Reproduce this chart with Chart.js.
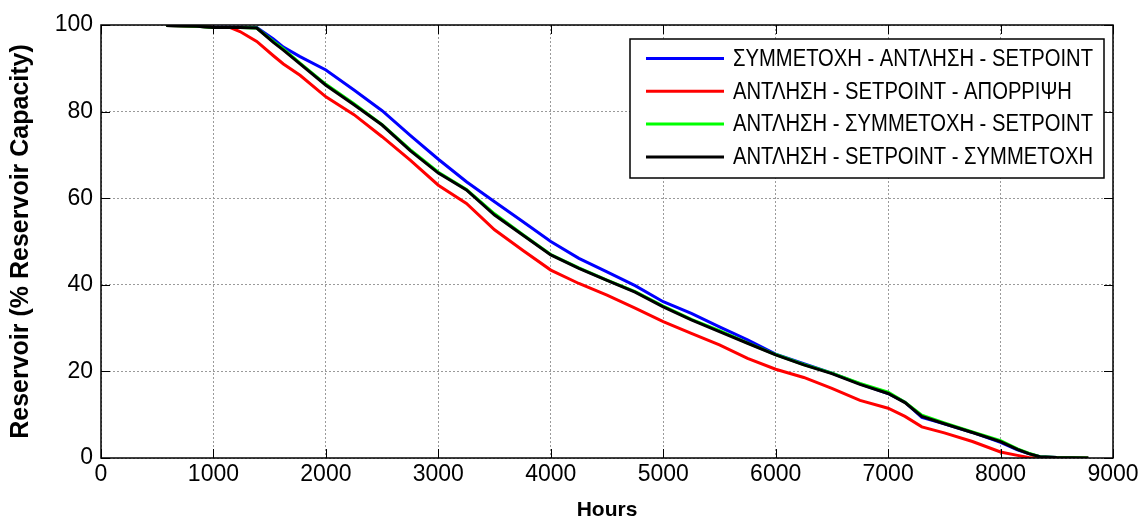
<!DOCTYPE html>
<html>
<head>
<meta charset="utf-8">
<script src="https://cdn.jsdelivr.net/npm/chart.js@4.4.1/dist/chart.umd.min.js"></script>
<style>
  body { margin: 0; background: #fff; }
</style>
</head>
<body>
<canvas id="chart" width="1145" height="523"></canvas>
<script>
// hours of the year (x) and reservoir level in % of capacity for each strategy
var hours = [580, 850, 1000, 1150, 1236, 1385, 1533, 1622, 1770, 2000, 2250, 2500, 2750, 3000, 3250, 3500, 3750, 4000, 4250, 4500,
             4750, 5000, 5250, 5500, 5750, 6000, 6250, 6500, 6750, 7000, 7150, 7300, 7500, 7750, 8000, 8150, 8250, 8350, 8500, 8780]

var blueVals  = [99.9, 99.7, 99.5, 99.5, 99.5, 99.4, 96.8, 94.9, 92.7, 89.6, 85.0, 80.2, 74.5, 69.0, 63.8, 59.2, 54.6, 50.0, 46.1, 43.0,
                 39.8, 36.1, 33.4, 30.3, 27.3, 24.0, 21.8, 19.6, 17.1, 14.9, 12.9, 9.4, 7.9, 5.9, 3.6, 1.9, 1.0, 0.3, 0.1, 0]
var redVals   = [99.9, 99.7, 99.5, 99.4, 98.5, 96.2, 92.9, 91.0, 88.4, 83.4, 79.3, 74.2, 68.8, 63.0, 58.8, 52.7, 48.0, 43.4, 40.3, 37.6,
                 34.6, 31.5, 28.8, 26.1, 23.0, 20.5, 18.6, 16.1, 13.3, 11.5, 9.6, 7.2, 5.8, 3.8, 1.4, 0.6, 0.1, 0, 0, 0]
var greenVals = [99.9, 99.7, 99.4, 99.4, 99.4, 99.3, 96.2, 94.5, 91.2, 86.3, 81.8, 77.0, 71.2, 66.0, 62.0, 56.4, 51.6, 47.0, 43.9, 41.1,
                 38.4, 35.1, 32.0, 29.4, 26.6, 23.9, 21.6, 19.6, 17.2, 15.2, 12.9, 9.9, 8.1, 6.0, 4.0, 2.1, 1.1, 0.3, 0.1, 0]
var blackVals = [99.9, 99.7, 99.4, 99.4, 99.4, 99.3, 96.0, 94.2, 91.0, 86.1, 81.6, 76.9, 71.0, 65.8, 61.9, 56.1, 51.5, 46.9, 43.8, 41.0,
                 38.3, 34.9, 31.9, 29.2, 26.5, 23.8, 21.5, 19.5, 17.0, 14.9, 12.8, 9.6, 7.9, 5.9, 3.8, 2.0, 1.0, 0.3, 0.1, 0]

var names  = ['ΣΥΜΜΕΤΟΧΗ - ΑΝΤΛΗΣΗ - SETPOINT', 'ΑΝΤΛΗΣΗ - SETPOINT - ΑΠΟΡΡΙΨΗ',
              'ΑΝΤΛΗΣΗ - ΣΥΜΜΕΤΟΧΗ - SETPOINT', 'ΑΝΤΛΗΣΗ - SETPOINT - ΣΥΜΜΕΤΟΧΗ']
var colors = ['#0000ff', '#ff0000', '#00ff00', '#000000']
var series = [blueVals, redVals, greenVals, blackVals]
var drawOrder = [3, 2, 1, 0]   // lower = drawn on top, black last

var xTicks = [0, 1000, 2000, 3000, 4000, 5000, 6000, 7000, 8000, 9000]
var yTicks = [0, 20, 40, 60, 80, 100]

const FONT = '"Liberation Sans", Arial, sans-serif'
Chart.defaults.font.family = FONT
Chart.defaults.color = '#000'

const toPoints = (vals) => hours.map((h, i) => ({ x: h, y: vals[i] }))

const datasets = series.map((vals, i) => ({
    label: names[i],
    data: toPoints(vals),
    borderColor: colors[i],
    backgroundColor: colors[i],
    borderWidth: 3,
    pointRadius: 0,
    tension: 0,
    fill: false,
    order: drawOrder[i]
}))

// black frame + MATLAB style inner ticks
const frame = {
    id: 'frame',
    afterDatasetsDraw(chart) {
        const { ctx, chartArea: a, scales } = chart
        ctx.save()
        ctx.strokeStyle = '#000'
        ctx.lineWidth = 1
        ctx.beginPath()
        xTicks.forEach(v => {
            const px = Math.round(scales.x.getPixelForValue(v)) + 0.5
            ctx.moveTo(px, a.bottom); ctx.lineTo(px, a.bottom - 9)
            ctx.moveTo(px, a.top); ctx.lineTo(px, a.top + 9)
        })
        yTicks.forEach(v => {
            const py = Math.round(scales.y.getPixelForValue(v)) + 0.5
            ctx.moveTo(a.left, py); ctx.lineTo(a.left + 9, py)
            ctx.moveTo(a.right, py); ctx.lineTo(a.right - 9, py)
        })
        ctx.stroke()
        ctx.lineWidth = 1.5
        ctx.strokeRect(a.left, a.top, a.right - a.left, a.bottom - a.top)
        ctx.restore()
    }
}

// legend box inside the plot, upper right
const boxLegend = {
    id: 'boxLegend',
    afterDraw(chart) {
        const ctx = chart.ctx
        const left = 630, top = 39, w = 474, h = 139
        ctx.save()
        ctx.fillStyle = '#fff'
        ctx.fillRect(left, top, w, h)
        ctx.strokeStyle = '#000'
        ctx.lineWidth = 1.5
        ctx.strokeRect(left, top, w, h)
        ctx.font = '23px ' + FONT
        const sx = 360 / ctx.measureText(names[0]).width
        chart.data.datasets.forEach((ds, i) => {
            const yy = top + 19.5 + i * 32.8
            ctx.strokeStyle = ds.borderColor
            ctx.lineWidth = 3
            ctx.beginPath()
            ctx.moveTo(left + 16, yy)
            ctx.lineTo(left + 94, yy)
            ctx.stroke()
            ctx.fillStyle = '#000'
            ctx.textBaseline = 'middle'
            ctx.save()
            ctx.translate(left + 103, yy + 1)
            ctx.scale(sx, 1)
            ctx.fillText(ds.label, 0, 0)
            ctx.restore()
        })
        ctx.restore()
    }
}

new Chart(document.getElementById('chart'), {
    type: 'line',
    data: { datasets: datasets },
    plugins: [frame, boxLegend],
    options: {
        responsive: false,
        devicePixelRatio: 1,
        animation: false,
        layout: { padding: { left: 0, right: 32, top: 25, bottom: 0 } },
        plugins: {
            legend: { display: false },
            tooltip: { enabled: false }
        },
        scales: {
            x: {
                type: 'linear',
                min: 0,
                max: 9000,
                afterBuildTicks: (s) => { s.ticks = xTicks.map(v => ({ value: v })) },
                afterFit: (s) => { s.height = 65 },
                ticks: { font: { size: 23 }, padding: 3, maxRotation: 0, color: '#000', callback: (v) => String(v) },
                grid: { color: '#9a9a9a', lineWidth: 1, drawTicks: false },
                border: { display: false, dash: [2, 2] },
                title: { display: true, text: 'Hours', font: { size: 21, weight: 'bold' }, padding: { top: 0, bottom: 0 } }
            },
            y: {
                min: 0,
                max: 100,
                afterBuildTicks: (s) => { s.ticks = yTicks.map(v => ({ value: v })) },
                afterFit: (s) => { s.width = 101 },
                ticks: { font: { size: 23 }, padding: 8, color: '#000', callback: (v) => String(v) },
                grid: { color: '#9a9a9a', lineWidth: 1, drawTicks: false },
                border: { display: false, dash: [2, 2] },
                title: { display: true, text: 'Reservoir (% Reservoir Capacity)', font: { size: 25, weight: 'bold' }, padding: { top: 6, bottom: 0 } }
            }
        }
    }
})
</script>
</body>
</html>
